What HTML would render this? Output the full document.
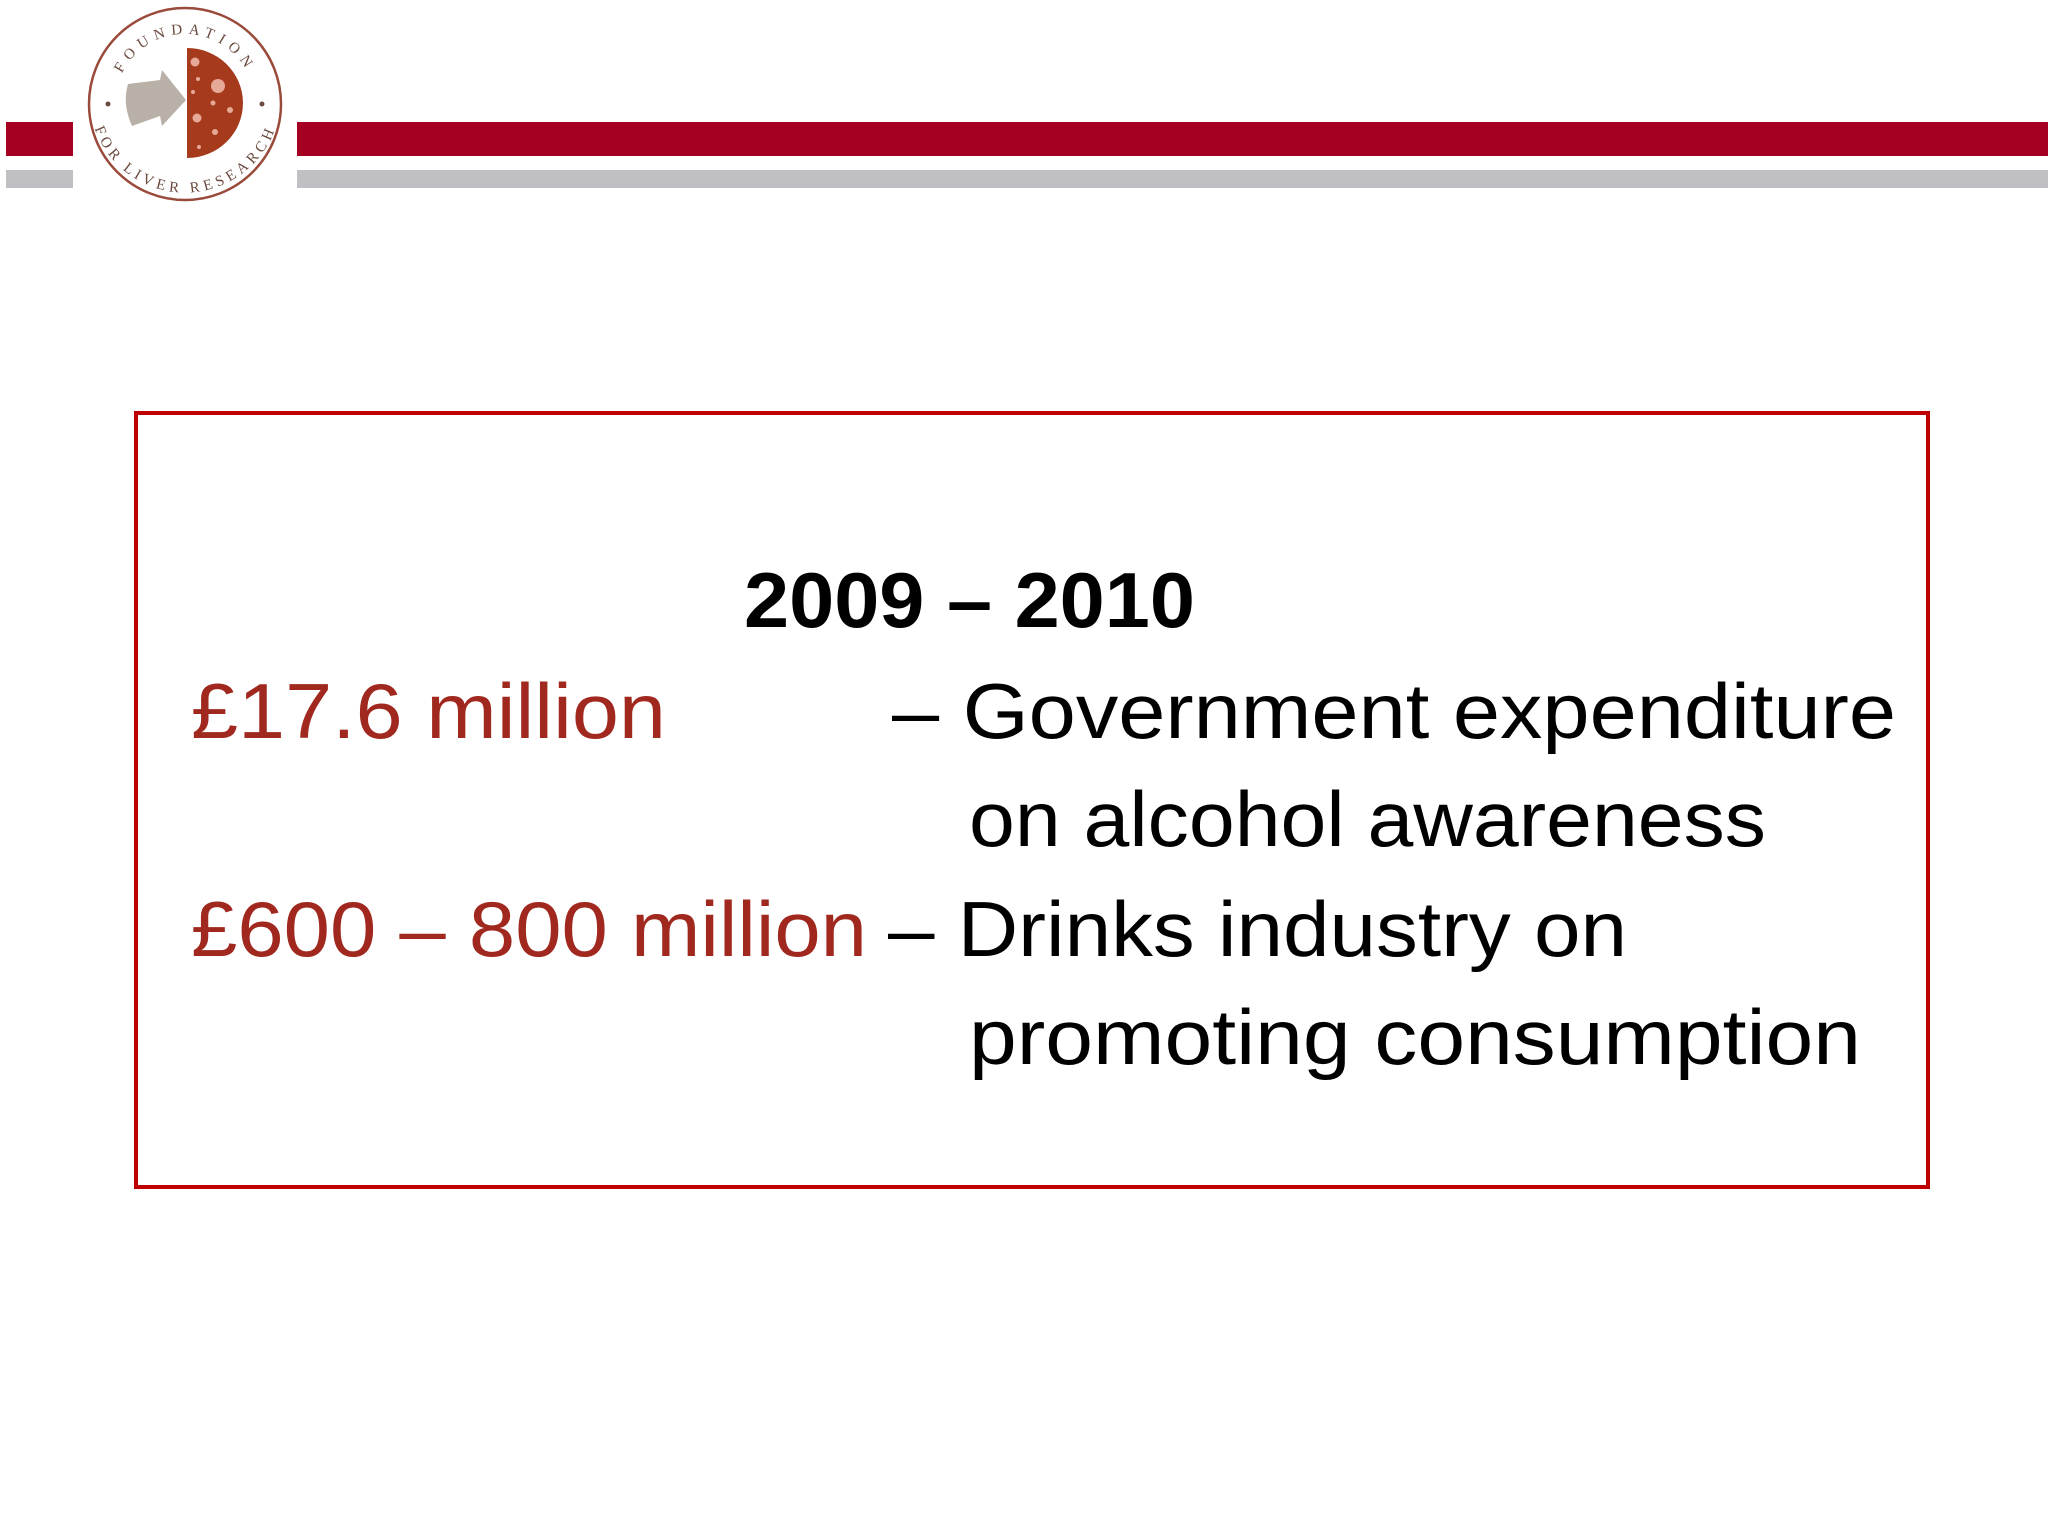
<!DOCTYPE html>
<html><head><meta charset="utf-8"><style>
html,body{margin:0;padding:0;background:#fff;}
svg{display:block;}
</style></head><body>
<svg width="2048" height="1536" viewBox="0 0 2048 1536" xmlns="http://www.w3.org/2000/svg" font-family="'Liberation Sans', sans-serif">
<rect width="2048" height="1536" fill="#fff"/>
<g>
<rect x="6" y="122" width="67" height="34" fill="#a50021"/>
<rect x="6" y="170" width="67" height="18" fill="#c0bfc4"/>
<rect x="297" y="122" width="1751" height="34" fill="#a50021"/>
<rect x="297" y="170" width="1751" height="18" fill="#c0bfc4"/>
</g>
<g>
<circle cx="185" cy="104" r="96" fill="#fff" stroke="#9a4a3a" stroke-width="2.5"/>
<path d="M187 48 A56 55 0 0 1 187 158 Z" fill="#a63a1c"/>
<path d="M128 84 L160 80 L162 70 L186 100 L162 126 L160 116 L132 126 Q122 104 128 84 Z" fill="#b9b1a8"/>
<circle cx="218" cy="86" r="7" fill="#e6a897"/>
<circle cx="195" cy="62" r="4.5" fill="#e6a897"/>
<circle cx="197" cy="118" r="4.5" fill="#e6a897"/>
<circle cx="213" cy="103" r="2.5" fill="#e6a897"/>
<circle cx="230" cy="110" r="3" fill="#e6a897"/>
<circle cx="215" cy="132" r="3" fill="#e6a897"/>
<circle cx="198" cy="79" r="2" fill="#e6a897"/>
<circle cx="193" cy="92" r="2" fill="#e6a897"/>
<circle cx="199" cy="147" r="2" fill="#e6a897"/>
<defs><path id="arcTop" d="M115 104 A70 70 0 0 1 255 104"/><path id="arcBot" d="M100 110 A86 86 0 0 0 270 110"/></defs>
<text font-family="'Liberation Serif', serif" font-size="15" fill="#6b4a3f" letter-spacing="6"><textPath href="#arcTop" startOffset="50%" text-anchor="middle">FOUNDATION</textPath></text>
<text font-family="'Liberation Serif', serif" font-size="15" fill="#6b4a3f" letter-spacing="3"><textPath href="#arcBot" startOffset="50%" text-anchor="middle" dominant-baseline="hanging">FOR LIVER RESEARCH</textPath></text>
<circle cx="108" cy="104" r="2.5" fill="#6b4a3f"/><circle cx="262" cy="104" r="2.5" fill="#6b4a3f"/>
</g>
<rect x="136" y="413" width="1792" height="774" fill="none" stroke="#c00000" stroke-width="4"/>
<g font-size="78">
<text x="744" y="627" font-weight="bold" fill="#000" textLength="451" lengthAdjust="spacingAndGlyphs">2009 – 2010</text>
<text x="191" y="738" fill="#a0281e" textLength="475" lengthAdjust="spacingAndGlyphs">£17.6 million</text>
<text x="892" y="738" fill="#000" textLength="1004" lengthAdjust="spacingAndGlyphs">– Government expenditure</text>
<text x="969" y="846" fill="#000" textLength="797" lengthAdjust="spacingAndGlyphs">on alcohol awareness</text>
<text x="191" y="956" fill="#a0281e" textLength="676" lengthAdjust="spacingAndGlyphs">£600 – 800 million</text>
<text x="888" y="956" fill="#000" textLength="739" lengthAdjust="spacingAndGlyphs">– Drinks industry on</text>
<text x="969" y="1064" fill="#000" textLength="892" lengthAdjust="spacingAndGlyphs">promoting consumption</text>
</g>
</svg>
</body></html>
